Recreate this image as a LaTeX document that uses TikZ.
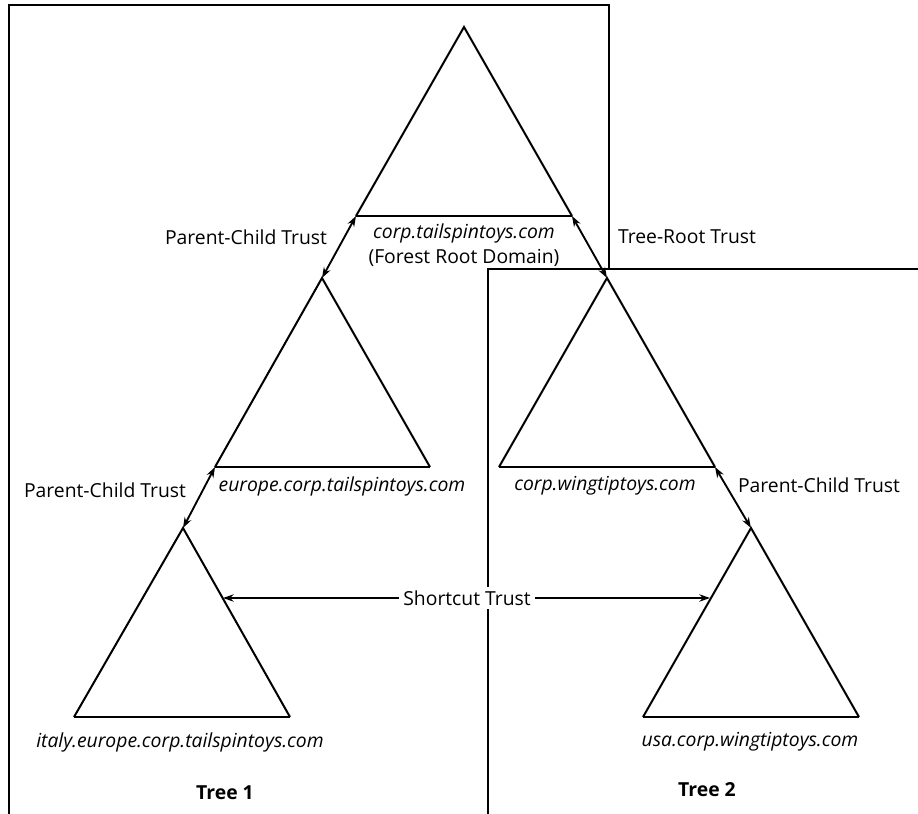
\documentclass[tikz,border=0pt]{standalone}
\usepackage{fontspec}
\setmainfont{Open Sans}
\usetikzlibrary{arrows.meta}

\newcommand{\labelsize}{\fontsize{14.5}{17}\selectfont}

\tikzset{
  tip/.tip={Stealth[length=8pt,width=5.5pt]},
  trustline/.style={line width=1.4pt, tip-tip},
  domainside/.style={line width=1.5pt, line join=miter},
  domainbase/.style={line width=2.2pt},
  treeline/.style={line width=1.5pt},
  domainlabel/.style={font={\labelsize\itshape}, inner sep=1pt},
  trustlabel/.style={font=\labelsize, inner sep=1pt}
}

\begin{document}
\begin{tikzpicture}[x=0.75pt, y=-0.75pt, text centered]
    \useasboundingbox (0,0) rectangle (918,814);

    % Tree boxes
    \draw[treeline] (9,814) -- (9,5) -- (609,5) -- (609,269);
    \draw[treeline] (918,269) -- (488,269) -- (488,814);

    % Domains
    \coordinate (rootA) at (464,27);  \coordinate (rootL) at (356,216); \coordinate (rootR) at (572,216);
    \coordinate (eurA) at (322,278);  \coordinate (eurL) at (215,467);  \coordinate (eurR) at (430,467);
    \coordinate (itaA) at (183,528);  \coordinate (itaL) at (74,717);   \coordinate (itaR) at (290,717);
    \coordinate (wingA) at (607,278); \coordinate (wingL) at (499,467); \coordinate (wingR) at (715,467);
    \coordinate (usaA) at (751,528);  \coordinate (usaL) at (643,717);  \coordinate (usaR) at (859,717);

    \foreach \d in {root,eur,ita,wing,usa} {
      \draw[domainside] (\d L) -- (\d A) -- (\d R);
      \draw[domainbase] (\d L) -- (\d R);
    }

    % Domain names
    \node[domainlabel] (rootname) at (464,233) {corp.tailspintoys.com};
    \node[trustlabel] (rootnote) at (464,258) {(Forest Root Domain)};
    \node[domainlabel] (eurname) at (342,486) {europe.corp.tailspintoys.com};
    \node[domainlabel] (wingname) at (605,486) {corp.wingtiptoys.com};
    \node[domainlabel] (itaname) at (180,742) {italy.europe.corp.tailspintoys.com};
    \node[domainlabel] (usaname) at (750,742) {usa.corp.wingtiptoys.com};

    % Trusts
    \draw[trustline] (rootL) -- (eurA);
    \draw[trustline] (rootR) -- (wingA);
    \draw[trustline] (eurL) -- (itaA);
    \draw[trustline] (wingR) -- (usaA);
    \node[trustlabel] (pctop) at (246,237) {Parent-Child Trust};
    \node[trustlabel] (treeroot) at (687,237) {Tree-Root Trust};
    \node[trustlabel] (pcleft) at (105,490) {Parent-Child Trust};
    \node[trustlabel] (pcright) at (819,485) {Parent-Child Trust};

    % Shortcut
    \coordinate (shortL) at (223,598);
    \coordinate (shortR) at (710,598);
    \node[trustlabel, fill=white, inner sep=3pt] (shortcut) at (467,598) {Shortcut Trust};
    \draw[trustline, -tip] (shortcut) -- (shortL);
    \draw[trustline, -tip] (shortcut) -- (shortR);

    % Tree names
    \node[trustlabel, font={\labelsize\bfseries}] (tree1) at (225,793) {Tree 1};
    \node[trustlabel, font={\labelsize\bfseries}] (tree2) at (707,790) {Tree 2};
\end{tikzpicture}
\end{document}
